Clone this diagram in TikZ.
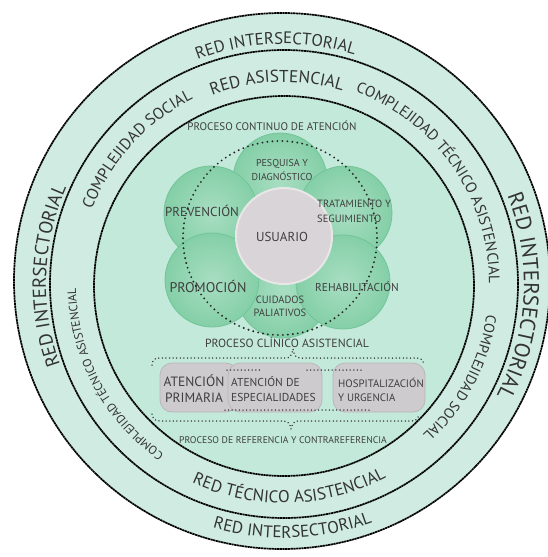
\documentclass[tikz,border=0pt]{standalone}
\usepackage{fontspec}
\setmainfont{PT Sans}
\usetikzlibrary{decorations.text}
\definecolor{ringfill}{HTML}{D0ECE2}
\definecolor{diskfill}{HTML}{C3E9DB}
\definecolor{petalin}{HTML}{A8DEC2}
\definecolor{petalout}{HTML}{84CFA7}
\definecolor{petaledge}{HTML}{74C498}
\definecolor{usr}{HTML}{D8D4D7}
\definecolor{usrrim}{HTML}{E9E6E8}
\definecolor{boxfill}{HTML}{CDCBCD}
\definecolor{boxrim}{HTML}{B9B7B9}
\definecolor{txt}{HTML}{333333}
\definecolor{lbl}{HTML}{3F3F3F}
\newcommand\mycf[1]{\fontsize{#1}{#1}\selectfont\color{txt}}
\tikzset{
  ringline/.style={line width=1.7pt, dash pattern=on 2.2pt off 0.5pt, black},
  dotline/.style={line width=1.5pt, line cap=round, dash pattern=on 0pt off 3.6pt, black!85},
  bigdots/.style={line width=2.1pt, line cap=round, dash pattern=on 0pt off 5pt, black!85},
  petal/.style={circle, minimum size=94pt, inner sep=0pt, inner color=petalin, outer color=petalout, draw=petaledge, line width=0.8pt},
  usernode/.style={circle, minimum size=96pt, inner sep=0pt, fill=usr, draw=usrrim, line width=2pt},
  gbox/.style={rounded corners=12pt, fill=boxfill, draw=boxrim, line width=0.8pt, minimum height=49pt, inner sep=0pt},
  lab/.style={anchor=base, inner sep=0pt, text=lbl},
  labw/.style={anchor=base west, inner sep=0pt, text=lbl},
}
\begin{document}
\begin{tikzpicture}[x=1pt,y=1pt]
\useasboundingbox (0,0) rectangle (547,-557);
\fill[white] (0,0) rectangle (547,-557);
\coordinate (C) at (284,-284);
\coordinate (CO) at (282,-281);
\coordinate (CI) at (284,-286);
% rings
\draw[ringline, fill=ringfill] (CO) circle[radius=268];
\draw[ringline, fill=ringfill] (C) circle[radius=234];
\draw[ringline, fill=diskfill] (CI) circle[radius=190];
% curved texts
\path[decorate, decoration={text along path, text align=center, text={|\mycf{16.7}|RED INTERSECTORIAL}}]
  ([shift={(122:240)}]C) arc[start angle=122, end angle=62, radius=240];
\path[decorate, decoration={text along path, text align=center, text={|\mycf{17.2}|RED ASISTENCIAL}}]
  ([shift={(122:202)}]C) arc[start angle=122, end angle=62, radius=202];
\path[decorate, decoration={text along path, text align=center, text={|\mycf{19}|RED INTERSECTORIAL}}]
  ([shift={(213:238)}]C) arc[start angle=213, end angle=143, radius=238];
\path[decorate, decoration={text along path, text align=center, text={|\mycf{21.5}|RED INTERSECTORIAL}}]
  ([shift={(37:240)}]C) arc[start angle=37, end angle=-43, radius=240];
\path[decorate, decoration={text along path, text align=center, text={|\mycf{17}|RED INTERSECTORIAL}}]
  ([shift={(-118:254)}]C) arc[start angle=-118, end angle=-58, radius=254];
\path[decorate, decoration={text along path, text align=center, text={|\mycf{17}|RED TÉCNICO ASISTENCIAL}}]
  ([shift={(-128.5:219)}]C) arc[start angle=-128.5, end angle=-48.5, radius=219];
\path[decorate, decoration={text along path, text align=center, text={|\mycf{16}|COMPLEJIDAD SOCIAL}}]
  ([shift={(172.5:206)}]C) arc[start angle=172.5, end angle=102.5, radius=206];
\path[decorate, decoration={text along path, text align=center, text={|\mycf{15.3}|COMPLEJIDAD TÉCNICO ASISTENCIAL}}]
  ([shift={(80:205)}]C) arc[start angle=80, end angle=-10, radius=205];
\path[decorate, decoration={text along path, text align=center, text={|\mycf{14.5}|COMPLEJIDAD SOCIAL}}]
  ([shift={(2:205)}]C) arc[start angle=2, end angle=-58, radius=205];
\path[decorate, decoration={text along path, text align=center, text={|\mycf{12}|COMPLEJIDAD TÉCNICO ASISTENCIAL}}]
  ([shift={(248:208)}]C) arc[start angle=248, end angle=168, radius=208];
% straight process labels
\node[lab, font=\fontsize{11}{11}\selectfont] (pca) at (272,-130) {PROCESO CONTINUO DE ATENCIÓN};
\node[lab, font=\fontsize{11.8}{11.8}\selectfont] (pcl) at (287,-347) {PROCESO CLÍNICO ASISTENCIAL};
\node[lab, font=\fontsize{9.7}{9.7}\selectfont] (prc) at (283,-443) {PROCESO DE REFERENCIA Y CONTRAREFERENCIA};
% petals
\node[petal] (ptop) at (280,-180) {};
\node[petal] (pbot) at (283,-291) {};
\node[petal] (ptl) at (211,-213) {};
\node[petal] (ptr) at (345,-213) {};
\node[petal] (pbl) at (212,-280) {};
\node[petal] (pbr) at (343,-282) {};
\node[usernode] (usr) at (284,-236) {};
% petal labels
\node[lab, font=\fontsize{10}{10}\selectfont] (l1a) at (282,-166.5) {PESQUISA Y};
\node[lab, font=\fontsize{10}{10}\selectfont] (l1b) at (282,-180.5) {DIAGNÓSTICO};
\node[lab, font=\fontsize{13}{13}\selectfont] (l2) at (202,-216.5) {PREVENCIÓN};
\node[labw, font=\fontsize{10.5}{10.5}\selectfont] (l3a) at (317,-207) {TRATAMIENTO Y};
\node[labw, font=\fontsize{10.5}{10.5}\selectfont] (l3b) at (317,-222) {SEGUIMIENTO};
\node[lab, font=\fontsize{13}{13}\selectfont] (l4) at (282,-241.5) {USUARIO};
\node[lab, font=\fontsize{14}{14}\selectfont] (l5) at (208,-292) {PROMOCIÓN};
\node[lab, font=\fontsize{11.4}{11.4}\selectfont] (l6) at (357,-291) {REHABILITACIÓN};
\node[lab, font=\fontsize{10.5}{10.5}\selectfont] (l7a) at (280,-303.5) {CUIDADOS};
\node[lab, font=\fontsize{10.5}{10.5}\selectfont] (l7b) at (280,-316.5) {PALIATIVOS};
% dotted circle
\draw[bigdots] (280,-238) circle[radius=97];
% boxes
\node[gbox, minimum width=78pt] (bap) at (199,-387.5) {};
\node[gbox, minimum width=94pt] (bae) at (275,-387.5) {};
\node[gbox, minimum width=92pt] (bhu) at (379,-387.5) {};
\node[lab, font=\fontsize{13.5}{13.5}\selectfont] (t1a) at (194,-386.5) {ATENCIÓN};
\node[lab, font=\fontsize{13.5}{13.5}\selectfont] (t1b) at (194,-402.5) {PRIMARIA};
\node[labw, font=\fontsize{11.5}{11.5}\selectfont] (t2a) at (231,-386) {ATENCIÓN DE};
\node[labw, font=\fontsize{11.5}{11.5}\selectfont] (t2b) at (231,-401) {ESPECIALIDADES};
\node[labw, font=\fontsize{10.8}{10.8}\selectfont] (t3a) at (338,-387) {HOSPITALIZACIÓN};
\node[labw, font=\fontsize{10.8}{10.8}\selectfont] (t3b) at (338,-401) {Y URGENCIA};
% inner dotted segments
\draw[dotline] (227,-370) -- (260,-370);
\draw[dotline] (307,-370) -- (363,-370);
\draw[dotline] (225,-410) -- (370,-410);
% braces
\draw[dotline] (152,-365) .. controls (153,-359) and (155,-358) .. (160,-358) -- (286,-358)
  .. controls (290,-358) and (292,-355) .. (293,-349)
  .. controls (294,-355) and (296,-358) .. (300,-358) -- (417,-358)
  .. controls (421,-358) and (423,-360) .. (424,-365);
\draw[dotline] (152,-414) .. controls (153,-419) and (155,-421) .. (160,-421) -- (284,-421)
  .. controls (288,-421) and (290,-424) .. (291,-429)
  .. controls (292,-424) and (294,-421) .. (298,-421) -- (412,-421)
  .. controls (416,-421) and (418,-419) .. (419,-414);
\end{tikzpicture}
\end{document}
